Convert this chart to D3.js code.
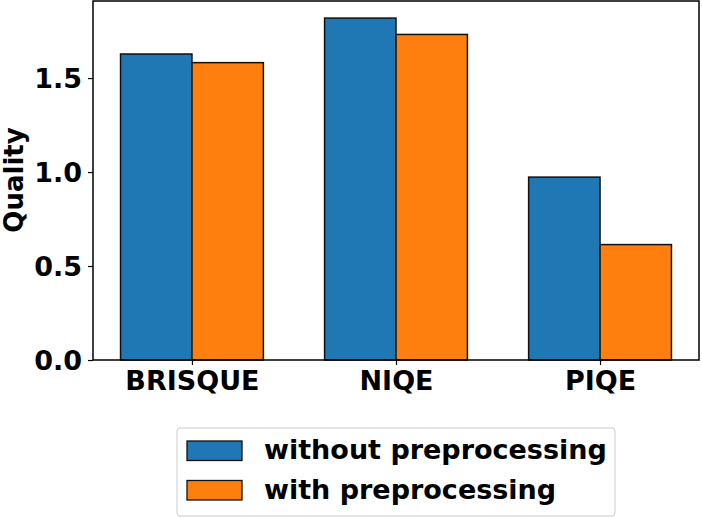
<!DOCTYPE html>
<html>
<head>
<meta charset="utf-8">
<script src="https://cdn.jsdelivr.net/npm/d3@7"></script>
<style>
  body { margin: 0; background: #fff; }
  svg { display: block; }
  svg text { font-family: "DejaVu Sans", sans-serif; font-weight: bold; fill: #000; }
</style>
</head>
<body>
<div id="chart"></div>
<script>
var categories = ['BRISQUE', 'NIQE', 'PIQE'];
var seriesNames = ['without preprocessing', 'with preprocessing'];
var withoutPre = [1.628, 1.819, 0.973];
var withPre = [1.582, 1.732, 0.614];
var yTicks = [0.0, 0.5, 1.0, 1.5];
var colors = ['#1f77b4', '#ff7f0e'];

var width = 702, height = 518;
var margin = { left: 93, right: 3, top: 1, bottom: 158 };
var barW = 0.35;

var svg = d3.select('#chart').append('svg')
    .attr('width', width)
    .attr('height', height);

var x = d3.scaleLinear()
    .domain([-barW - 0.135, categories.length - 1 + barW + 0.135])
    .range([margin.left, width - margin.right]);

var y = d3.scaleLinear()
    .domain([0, d3.max(withoutPre.concat(withPre)) * 1.05])
    .range([height - margin.bottom, margin.top]);

var series = [withoutPre, withPre];

// bars
series.forEach(function (vals, s) {
    svg.append('g')
        .selectAll('rect')
        .data(vals)
        .join('rect')
        .attr('x', function (d, i) { return x(i + (s === 0 ? -barW : 0)); })
        .attr('width', x(barW) - x(0))
        .attr('y', function (d) { return y(d); })
        .attr('height', function (d) { return y(0) - y(d); })
        .attr('fill', colors[s])
        .attr('stroke', '#111')
        .attr('stroke-width', 1.5);
});

// axes
var yAxis = d3.axisLeft(y).tickValues(yTicks).tickFormat(d3.format('.1f')).tickSize(5).tickPadding(6);
var gy = svg.append('g')
    .attr('transform', 'translate(' + margin.left + ',0)')
    .call(yAxis);
gy.select('.domain').remove();
gy.selectAll('text').style('font-size', '27px').attr('dy', '0.36em');
gy.selectAll('line').attr('stroke', '#000').attr('stroke-width', 1.2);

var xAxis = d3.axisBottom(x).tickValues(d3.range(categories.length))
    .tickFormat(function (d) { return categories[d]; }).tickSize(5).tickPadding(6);
var gx = svg.append('g')
    .attr('transform', 'translate(0,' + y(0) + ')')
    .call(xAxis);
gx.select('.domain').remove();
gx.selectAll('text').style('font-size', '27px');
gx.selectAll('line').attr('stroke', '#000').attr('stroke-width', 1.2);

// frame
svg.append('rect')
    .attr('x', margin.left)
    .attr('y', margin.top)
    .attr('width', width - margin.right - margin.left)
    .attr('height', y(0) - margin.top)
    .attr('fill', 'none')
    .attr('stroke', '#000')
    .attr('stroke-width', 1.5);

// y label
svg.append('text')
    .attr('transform', 'translate(23,180) rotate(-90)')
    .attr('text-anchor', 'middle')
    .style('font-size', '26px')
    .text('Quality');

// legend
var lg = svg.append('g').attr('transform', 'translate(177,428)');
lg.append('rect')
    .attr('width', 438).attr('height', 88)
    .attr('rx', 3)
    .attr('fill', '#fff')
    .attr('stroke', '#ccc')
    .attr('stroke-width', 1);
seriesNames.forEach(function (name, i) {
    lg.append('rect')
        .attr('x', 10).attr('y', 13 + i * 39.5)
        .attr('width', 55).attr('height', 19.5)
        .attr('fill', colors[i])
        .attr('stroke', '#111')
        .attr('stroke-width', 1.3);
    lg.append('text')
        .attr('x', 87).attr('y', 31 + i * 39.5)
        .style('font-size', '27px')
        .text(name);
});
</script>
</body>
</html>
